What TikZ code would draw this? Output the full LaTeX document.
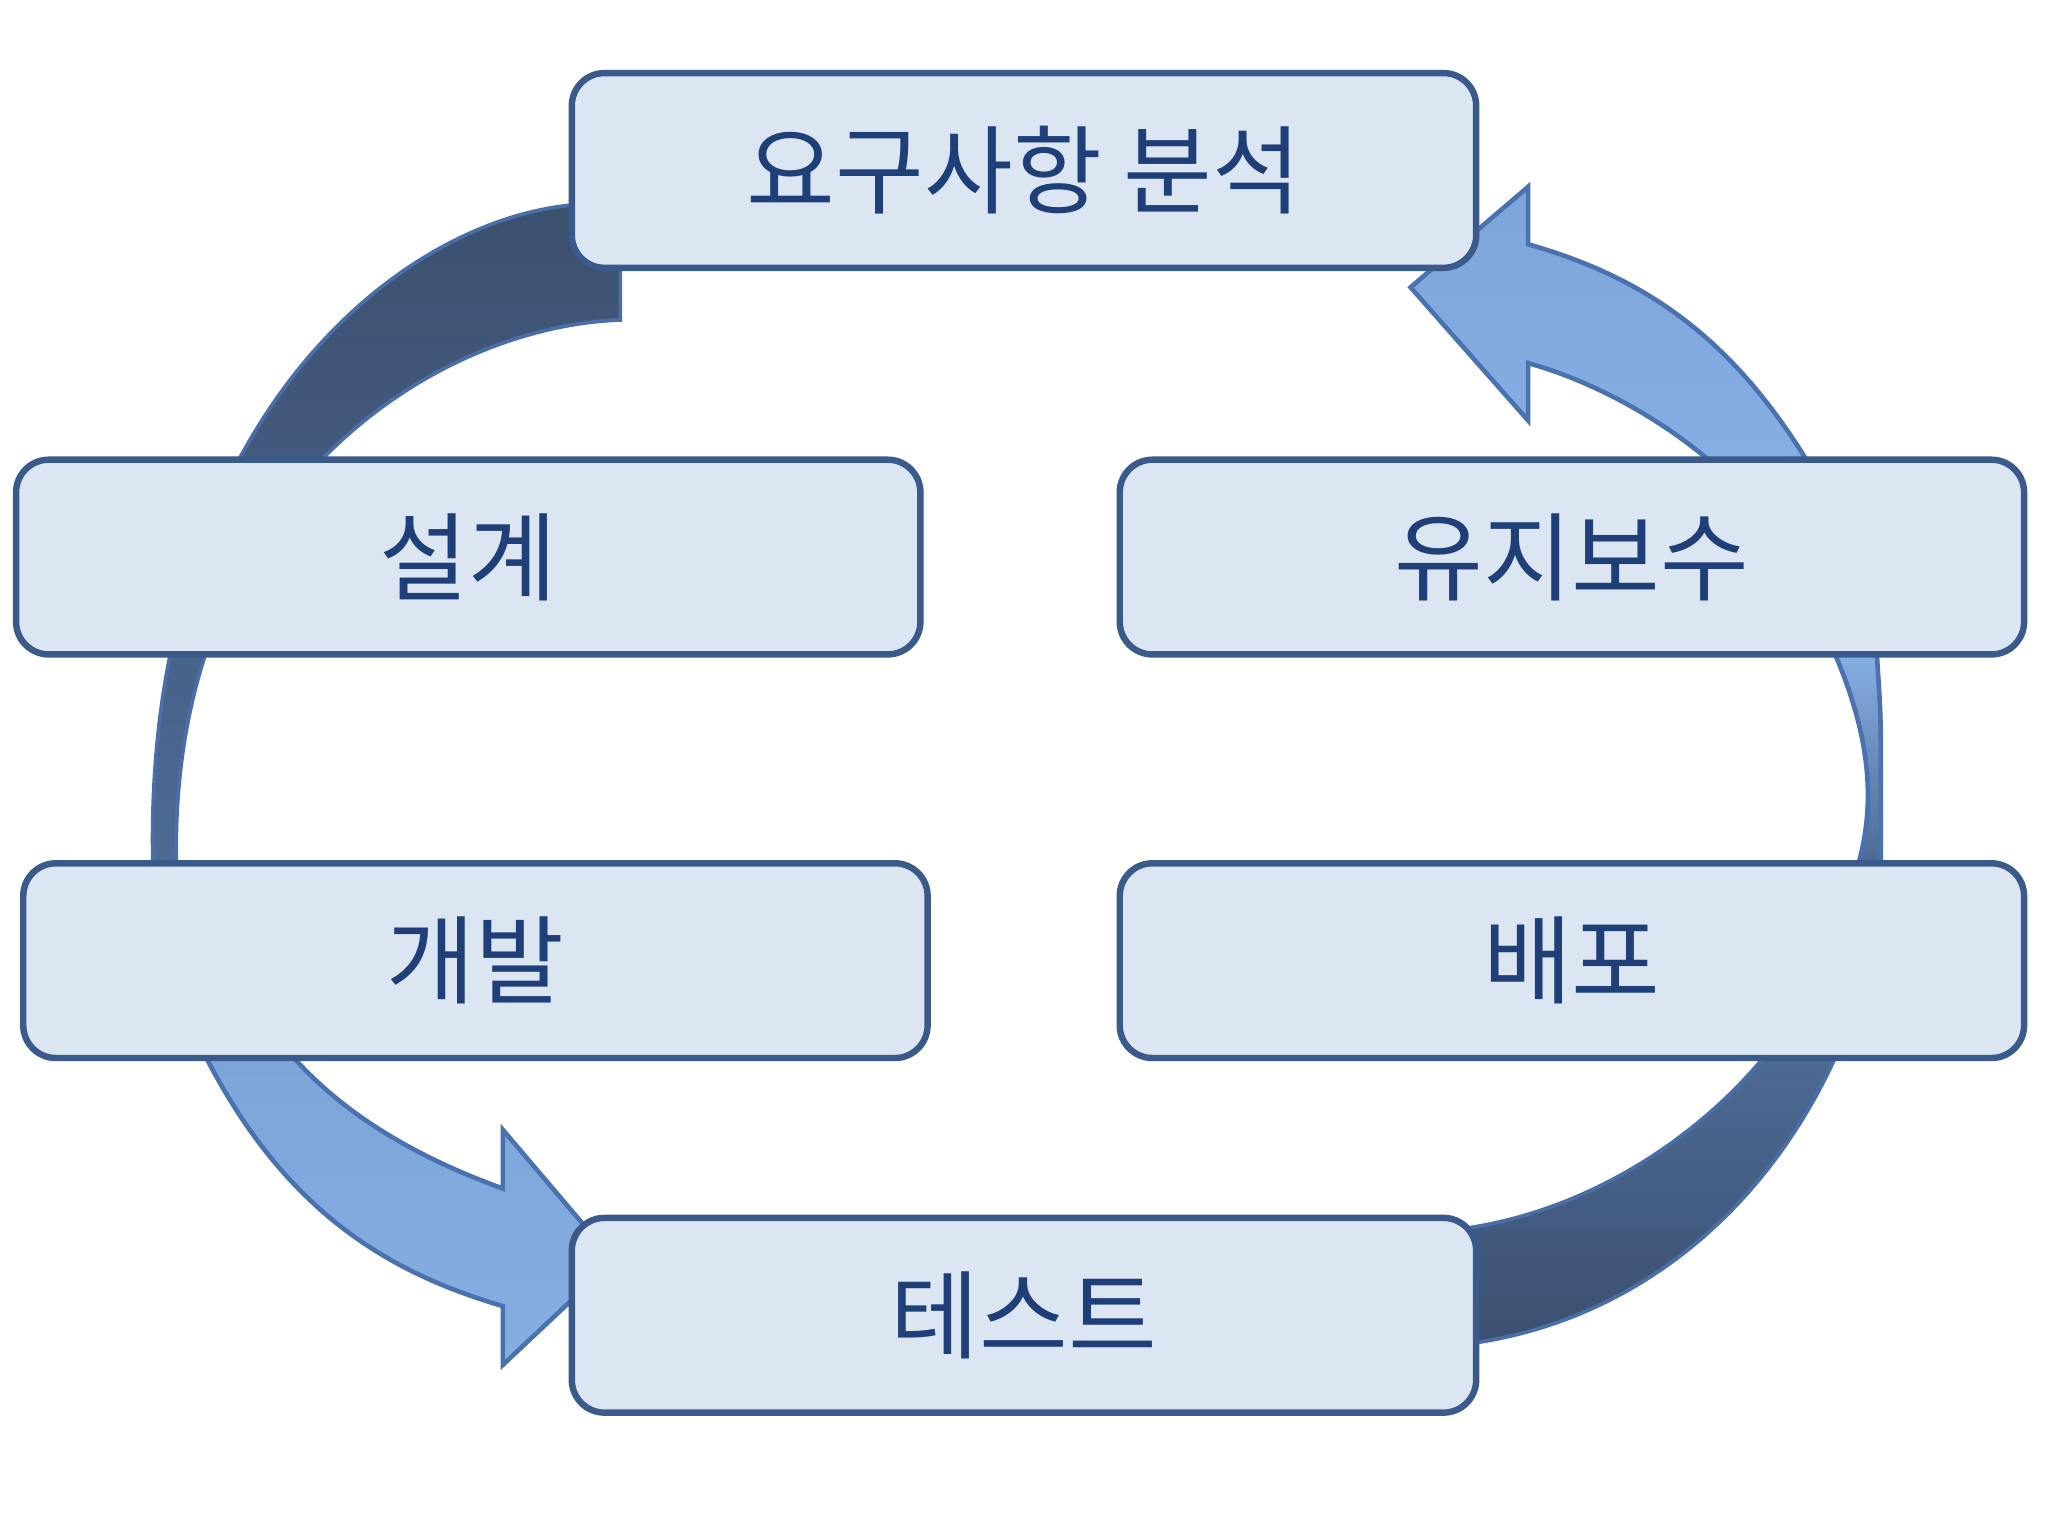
\documentclass[tikz,border=0pt]{standalone}
\usepackage{fontspec}
\setmainfont{Noto Sans CJK KR}
\begin{document}
\begin{tikzpicture}[x=0.01cm,y=-0.01cm,
  box/.style={draw=boxline,line width=1.4pt,fill=boxfill,rounded corners=0.25cm,
    minimum width=6.92cm,minimum height=1.49cm,inner sep=0pt,
    font=\fontsize{21}{21}\selectfont,text=txt},
  dark/.style={draw=darkline,line width=0.8pt,top color=darktop,bottom color=darkbot},
  light/.style={draw=lightline,line width=1pt,top color=lighttop,bottom color=lightbot}]
\definecolor{boxfill}{HTML}{DCE6F2}
\definecolor{boxline}{HTML}{3A5A8C}
\definecolor{txt}{HTML}{1F3F78}
\definecolor{darktop}{HTML}{3C5070}
\definecolor{darkbot}{HTML}{4D6A94}
\definecolor{darkline}{HTML}{4A6FA8}
\definecolor{lighttop}{HTML}{7DA5DA}
\definecolor{lightbot}{HTML}{86AEE2}
\definecolor{lightline}{HTML}{4A72B0}
\useasboundingbox (0,0) rectangle (1568,1176);
\fill[white] (0,0) rectangle (1568,1176);
% top-left dark band
\path[dark,shading angle=0] (117,660) .. controls (110,330) and (300,170) .. (438,157) -- (475,157) -- (475,245)
  .. controls (330,250) and (130,380) .. (135,660) -- cycle;
% bottom-left light arrow
\path[light] (158,810) .. controls (220,930) and (300,975) .. (385,1000) -- (385,1045) -- (470,965) -- (385,865) -- (385,910)
  .. controls (330,890) and (270,860) .. (225,810) -- cycle;
% top-right light arrow
\path[light] (1383,352) .. controls (1320,250) and (1250,210) .. (1170,187) -- (1170,143) -- (1080,220) -- (1170,322) -- (1170,278)
  .. controls (1220,292) and (1270,320) .. (1308,352) -- cycle;
% right band
\path[light,top color=lightbot,bottom color=darkbot] (1405,501) .. controls (1430,560) and (1437,610) .. (1423,661) -- (1440,661) -- (1440,570) .. controls (1440,540) and (1438,520) .. (1437,501) -- cycle;
% bottom-right dark band
\path[dark,top color=darkbot,bottom color=darktop] (1405,810) .. controls (1350,930) and (1250,1010) .. (1130,1028) -- (1100,1028) -- (1100,940) -- (1125,940)
  .. controls (1220,925) and (1300,870) .. (1350,810) -- cycle;
% boxes
\node[box] (req) at (784,130.5) {요구사항 분석};
\node[box] (design) at (358.5,426.5) {설계};
\node[box] (maint) at (1203.5,426.5) {유지보수};
\node[box] (dev) at (364,735.5) {개발};
\node[box] (deploy) at (1203.5,735.5) {배포};
\node[box] (test) at (784,1007) {테스트};
\end{tikzpicture}
\end{document}
